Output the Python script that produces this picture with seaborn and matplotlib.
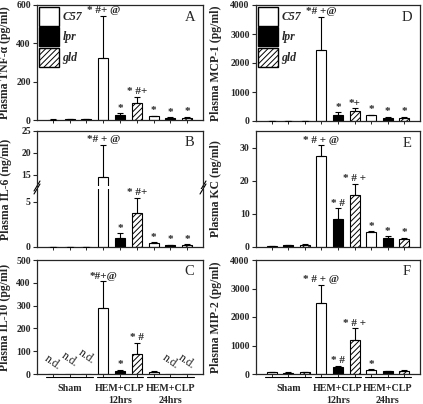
import numpy as np
import pandas as pd
import matplotlib
matplotlib.use("Agg")
import matplotlib.pyplot as plt
import matplotlib.transforms as mtransforms
from matplotlib.patches import Patch
import seaborn as sns

# ---------------- data ----------------
strains = ["C57", "lpr", "gld"]
groups = ["Sham", "HEM+CLP\n12hrs", "HEM+CLP\n24hrs"]

tnf_mean = [2, 3, 3, 325, 28, 89, 19, 10, 12]
tnf_err = [1, 1, 1, 217, 7, 30, 4, 4, 4]
tnf_marks = ["", "", "", "* #+ @", "*", "* #+", "*", "*", "*"]

il6_mean = [0.02, 0.03, 0.04, 14.5, 1.0, 3.8, 0.4, 0.2, 0.2]
il6_err = [0.01, 0.01, 0.01, 7.3, 0.5, 1.6, 0.1, 0.05, 0.1]
il6_marks = ["", "", "", "*# + @", "*", "* #+", "*", "*", "*"]

il10_mean = [0, 0, 0, 288, 12, 88, 10, 0, 0]
il10_err = [0, 0, 0, 118, 6, 48, 4, 0, 0]
il10_marks = ["", "", "", "*#+@", "*", "* #", "", "", ""]
il10_nd = [True, True, True, False, False, False, False, True, True]

mcp_mean = [10, 10, 10, 2450, 200, 360, 190, 100, 110]
mcp_err = [5, 5, 5, 1150, 100, 80, 15, 40, 30]
mcp_marks = ["", "", "", "*# +@", "*", "*+", "*", "*", "*"]

kc_mean = [0.3, 0.5, 0.6, 27.6, 8.5, 15.6, 4.4, 2.8, 2.5]
kc_err = [0.1, 0.1, 0.2, 3.1, 3.2, 3.4, 0.3, 0.4, 0.2]
kc_marks = ["", "", "", "* # + @", "* #", "* # +", "*", "*", "*"]

mip_mean = [60, 45, 60, 2480, 230, 1180, 150, 90, 110]
mip_err = [8, 8, 10, 660, 60, 420, 15, 10, 30]
mip_marks = ["", "", "", "* # + @", "* #", "* # +", "*", "", ""]

# ---------------- style ----------------
sns.set_style("ticks")
plt.rcParams["font.family"] = ["Liberation Serif", "DejaVu Serif"]
plt.rcParams["hatch.linewidth"] = 0.7
plt.rcParams["axes.linewidth"] = 0.9

bar_strain = [s for g in groups for s in strains]
bar_cat = [f"{g}|{s}" for g in groups for s in strains]
HATCH = "//////"

W, H = 423, 404
fig = plt.figure(figsize=(W / 100, H / 100), dpi=100)


def rect(x0, y0, x1, y1):
    return [x0 / W, 1 - y1 / H, (x1 - x0) / W, (y1 - y0) / H]


def style_bars(ax):
    for p, s in zip(ax.patches, bar_strain):
        if s == "C57":
            p.set_facecolor("white")
        elif s == "lpr":
            p.set_facecolor("black")
        else:
            p.set_facecolor("white")
            p.set_hatch(HATCH)
        p.set_edgecolor("black")
        p.set_linewidth(0.8)


def bold_ticks(ax):
    for lab in ax.get_yticklabels():
        lab.set_fontweight("bold")
        lab.set_fontsize(7)


def draw(ax, mean, err, skip=None):
    df = pd.DataFrame({"bar": bar_cat, "value": mean})
    sns.barplot(data=df, x="bar", y="value", order=bar_cat, color="white",
                width=0.6, errorbar=None, ax=ax)
    style_bars(ax)
    x = np.arange(len(mean))
    m = np.array(mean, float)
    e = np.array(err, float)
    keep = np.ones(len(m), bool) if skip is None else ~np.array(skip)
    ax.errorbar(x[keep], m[keep], yerr=[np.zeros(keep.sum()), e[keep]], fmt="none",
                ecolor="black", elinewidth=0.8, capsize=2.2, capthick=0.8, zorder=3)
    ax.set_xlim(-0.95, 8.95)
    ax.set_xticks(x)
    ax.set_xticklabels([])
    ax.set_xlabel("")
    ax.set_ylabel("")
    ax.tick_params(axis="x", length=2, width=0.7, direction="out")
    ax.tick_params(axis="y", length=3, width=0.8, direction="out", pad=1.5)


def marks(ax, mean, err, labels):
    for i, (m, e, t) in enumerate(zip(mean, err, labels)):
        if not t:
            continue
        ax.annotate(t, (i, m + e), xytext=(0, 0.5), textcoords="offset points",
                    ha="center", va="bottom", fontsize=8, fontweight="bold",
                    annotation_clip=False)


def letter(ax, t, y=0.895):
    ax.text(0.92, y, t, transform=ax.transAxes, ha="center", va="center",
            fontsize=10.5)


def ylab(ax, t, xpos):
    ax.set_ylabel(t, fontsize=8.5, fontweight="bold")
    ax.yaxis.set_label_coords(xpos, 0.5)


def legend(ax):
    hs = [Patch(facecolor="white", edgecolor="black", label="C57"),
          Patch(facecolor="black", edgecolor="black", label="lpr"),
          Patch(facecolor="white", edgecolor="black", hatch=HATCH, label="gld")]
    ax.legend(handles=hs, loc="upper left", frameon=False,
              prop={"style": "italic", "weight": "bold", "size": 8.5},
              handlelength=1.75, handleheight=2.1, labelspacing=0.12,
              borderaxespad=0.1, handletextpad=0.25, borderpad=0.05)


def group_axis(ax):
    tr = mtransforms.blended_transform_factory(ax.transData, ax.transAxes)
    for g, name in enumerate(groups):
        c = 3 * g + 1
        ax.plot([c - 1.4, c + 1.4], [-0.03, -0.03], color="black", lw=0.8,
                transform=tr, clip_on=False)
        lines = name.split("\n")
        ax.text(c, -0.125, lines[0], transform=tr, ha="center", va="center",
                fontsize=7.2, fontweight="bold")
        if len(lines) > 1:
            ax.text(c, -0.23, lines[1], transform=tr, ha="center", va="center",
                    fontsize=7.2, fontweight="bold")


LX0, LX1 = 37, 203
RX0, RX1 = 256, 420

# ---- A: TNF ----
axA = fig.add_axes(rect(LX0, 5, LX1, 120))
draw(axA, tnf_mean, tnf_err)
axA.set_ylim(0, 600)
axA.set_yticks([0, 200, 400, 600])
bold_ticks(axA)
marks(axA, tnf_mean, tnf_err, tnf_marks)
letter(axA, "A")
ylab(axA, "Plasma TNF-\u03b1 (pg/ml)", -0.155)
legend(axA)

# ---- B: IL-6 (broken axis) ----
axBt = fig.add_axes(rect(LX0, 131, LX1, 186))
axBb = fig.add_axes(rect(LX0, 189, LX1, 247))
for ax in (axBt, axBb):
    draw(ax, il6_mean, il6_err)
axBt.set_ylim(12.5, 25)
axBt.set_yticks([15, 20, 25])
axBb.set_ylim(0, 6.4)
axBb.set_yticks([0, 5])
bold_ticks(axBt)
bold_ticks(axBb)
axBt.spines["bottom"].set_visible(False)
axBb.spines["top"].set_visible(False)
axBt.tick_params(axis="x", length=0)
lim_b = axBb.get_ylim()[1]
top_m = [t if (m + e) > lim_b else "" for m, e, t in zip(il6_mean, il6_err, il6_marks)]
bot_m = [t if (m + e) <= lim_b else "" for m, e, t in zip(il6_mean, il6_err, il6_marks)]
marks(axBt, il6_mean, il6_err, top_m)
marks(axBb, il6_mean, il6_err, bot_m)
dx, dyt, dyb = 3 / 166, 5 / 55, 5 / 58
for xx in (0, 1):
    axBt.plot([xx - dx, xx + dx], [-dyt, dyt], color="black", lw=0.8,
              transform=axBt.transAxes, clip_on=False)
    axBb.plot([xx - dx, xx + dx], [1 - dyb, 1 + dyb], color="black", lw=0.8,
              transform=axBb.transAxes, clip_on=False)
letter(axBt, "B", y=0.79)
fig.text(6.5 / W, 1 - 189 / H, "Plasma IL-6 (ng/ml)", rotation=90, ha="center",
         va="center", fontsize=8.5, fontweight="bold")

# ---- C: IL-10 ----
axC = fig.add_axes(rect(LX0, 260, LX1, 374))
draw(axC, il10_mean, il10_err, skip=il10_nd)
axC.set_ylim(0, 500)
axC.set_yticks([0, 100, 200, 300, 400, 500])
bold_ticks(axC)
marks(axC, il10_mean, il10_err, il10_marks)
nd_y = [50, 62, 76, 0, 0, 0, 0, 55, 55]
for i, nd in enumerate(il10_nd):
    if nd:
        axC.text(i, nd_y[i], "n.d.", rotation=-35, ha="center", va="center",
                 fontsize=8.5, rotation_mode="anchor")
letter(axC, "C")
ylab(axC, "Plasma IL-10 (pg/ml)", -0.155)
group_axis(axC)

# ---- D: MCP-1 ----
axD = fig.add_axes(rect(RX0, 5, RX1, 121))
draw(axD, mcp_mean, mcp_err)
axD.set_ylim(0, 4000)
axD.set_yticks([0, 1000, 2000, 3000, 4000])
bold_ticks(axD)
marks(axD, mcp_mean, mcp_err, mcp_marks)
letter(axD, "D")
ylab(axD, "Plasma MCP-1 (pg/ml)", -0.205)
legend(axD)

# ---- E: KC ----
axE = fig.add_axes(rect(RX0, 131, RX1, 247))
draw(axE, kc_mean, kc_err)
axE.set_ylim(0, 35)
axE.set_yticks([0, 10, 20, 30])
bold_ticks(axE)
marks(axE, kc_mean, kc_err, kc_marks)
letter(axE, "E")
ylab(axE, "Plasma KC (ng/ml)", -0.205)

# ---- F: MIP-2 ----
axF = fig.add_axes(rect(RX0, 260, RX1, 374))
draw(axF, mip_mean, mip_err)
axF.set_ylim(0, 4000)
axF.set_yticks([0, 1000, 2000, 3000, 4000])
bold_ticks(axF)
marks(axF, mip_mean, mip_err, mip_marks)
letter(axF, "F")
ylab(axF, "Plasma MIP-2 (pg/ml)", -0.205)
group_axis(axF)

fig.savefig("out.png", dpi=100)
